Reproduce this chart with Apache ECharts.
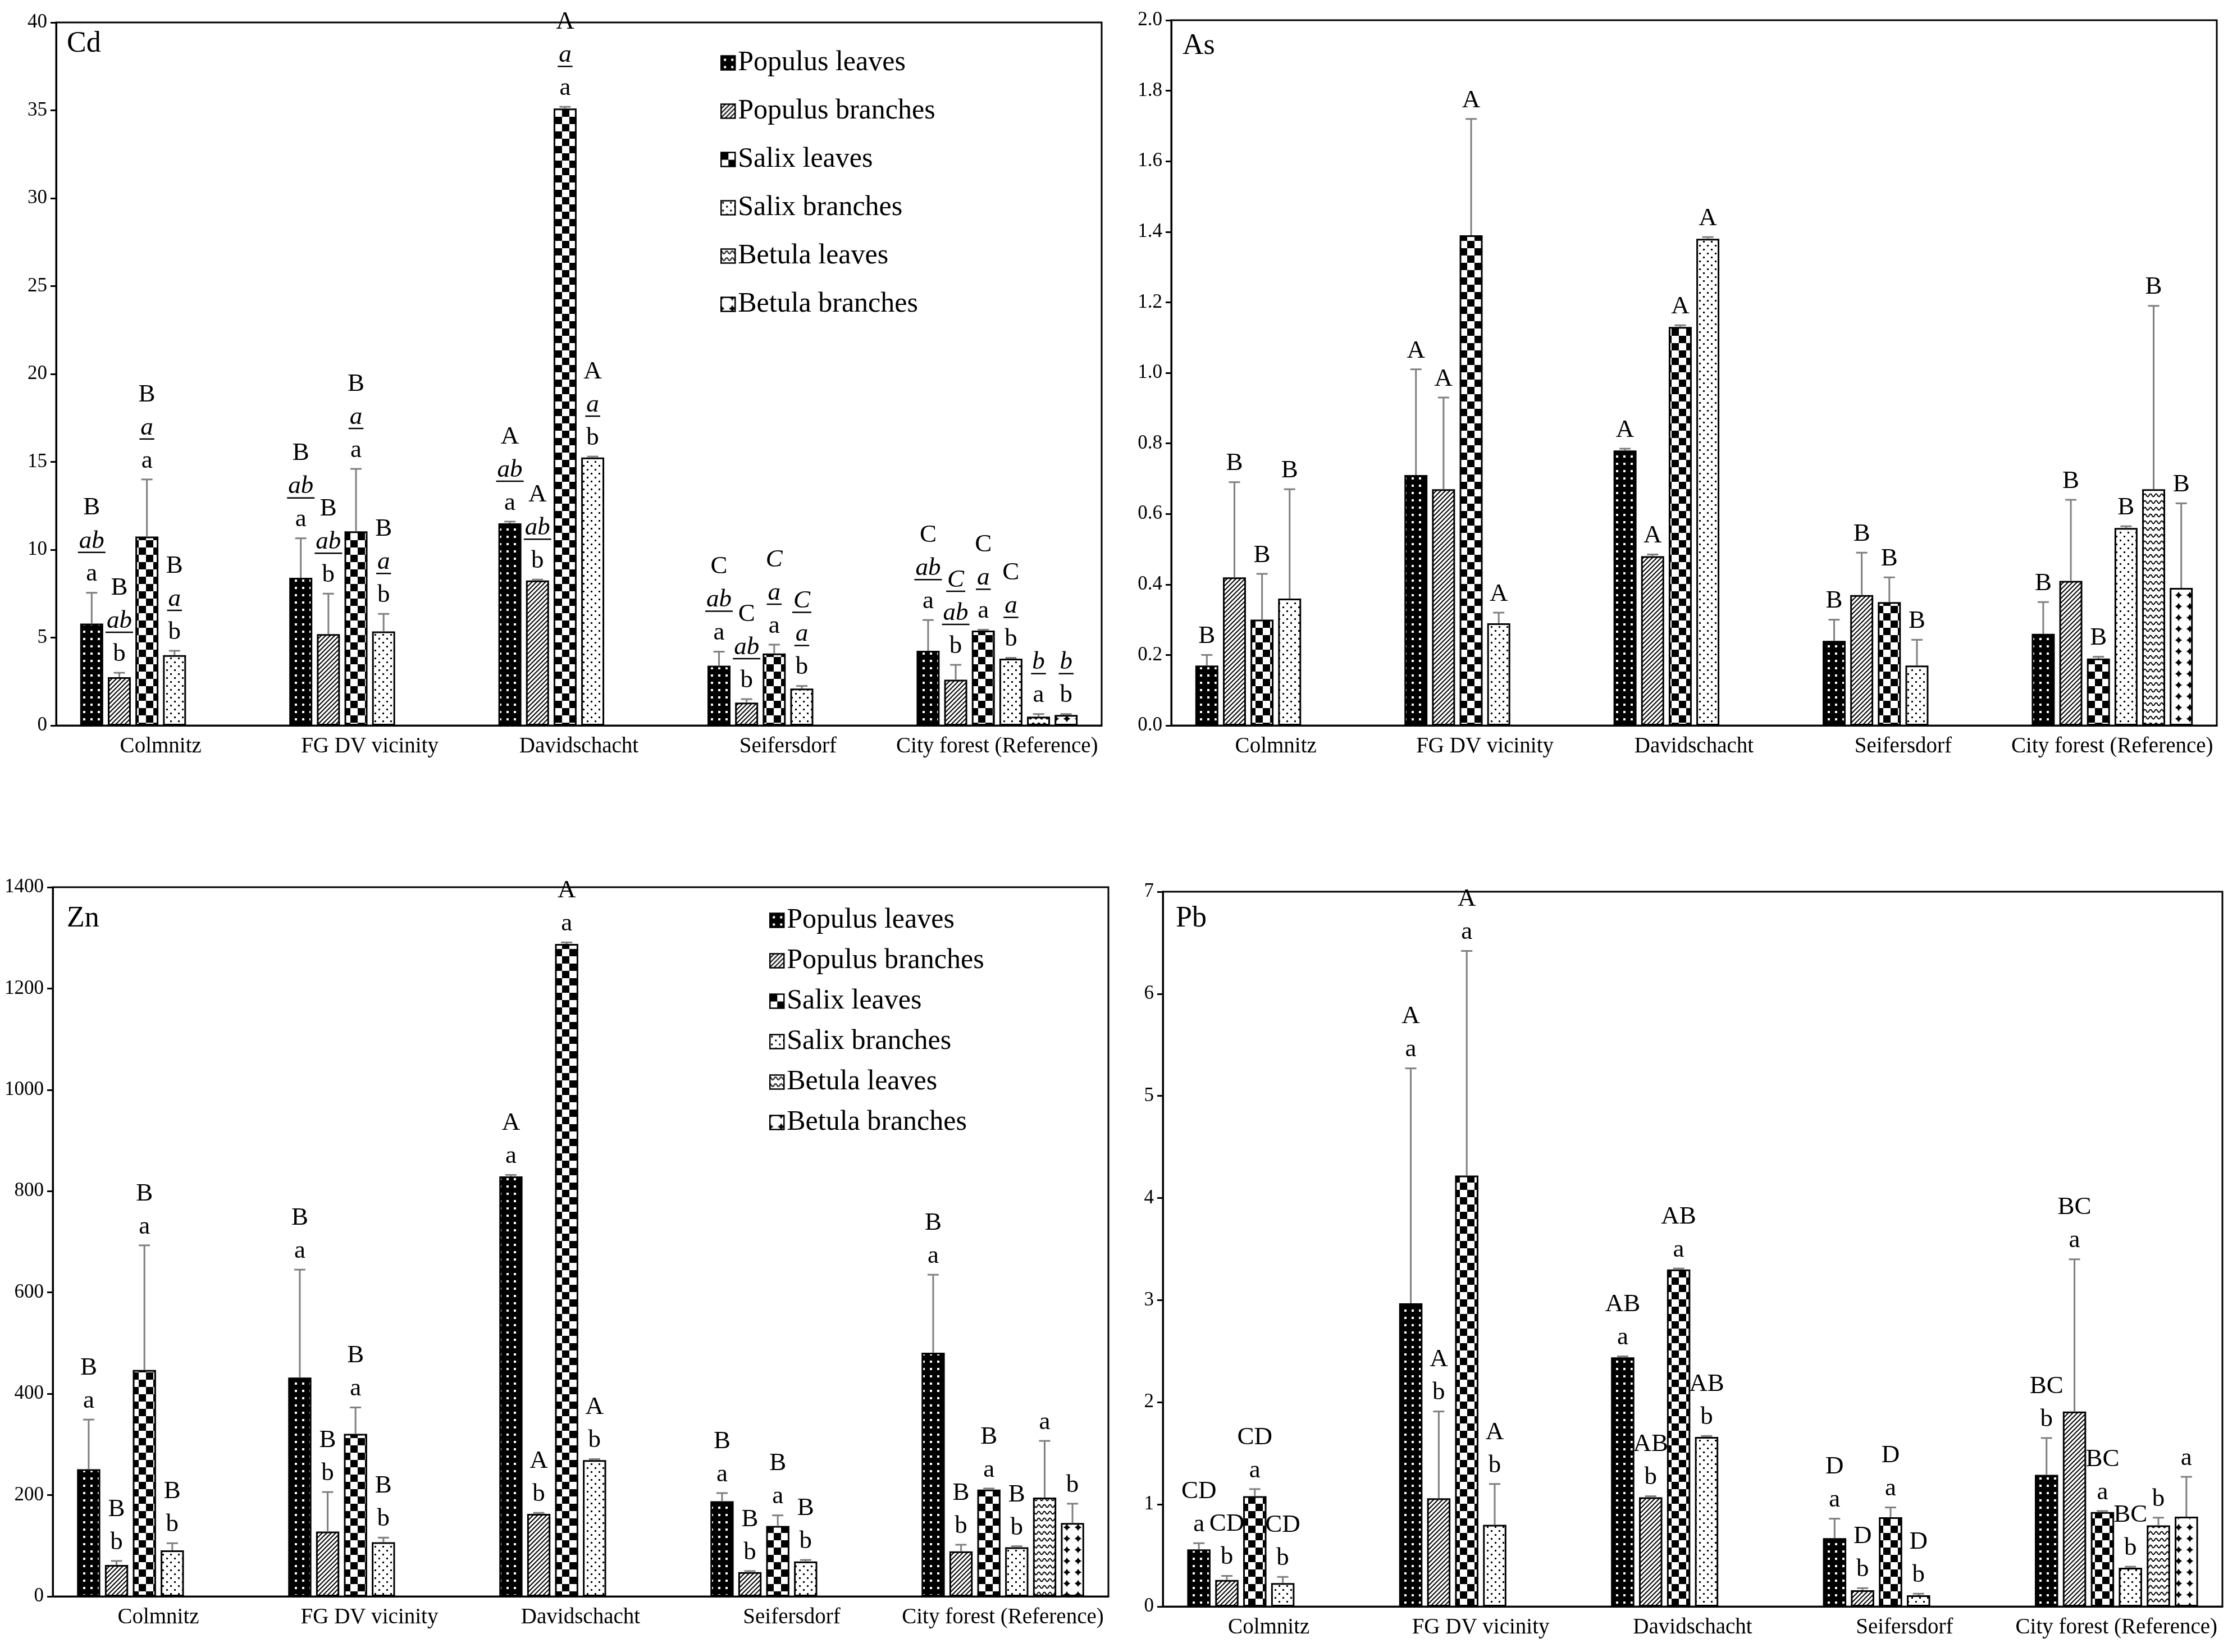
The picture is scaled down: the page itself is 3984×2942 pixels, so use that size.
<!DOCTYPE html>
<html><head><meta charset="utf-8">
<script src="https://cdn.jsdelivr.net/npm/echarts@6/dist/echarts.min.js"></script>
<style>html,body{margin:0;padding:0;background:#fff}#c{width:3984px;height:2942px}</style>
</head><body><div id="c"></div>
<script>
const categories = ['Colmnitz', 'FG DV vicinity', 'Davidschacht', 'Seifersdorf', 'City forest (Reference)'];
const seriesNames = ['Populus leaves', 'Populus branches', 'Salix leaves', 'Salix branches', 'Betula leaves', 'Betula branches'];

// ---- Cd ----
const cdMean = [
  [5.8, 8.4, 11.5, 3.4, 4.25],
  [2.75, 5.2, 8.25, 1.3, 2.6],
  [10.75, 11.05, 35.1, 4.1, 5.4],
  [4.0, 5.35, 15.25, 2.1, 3.8],
  [null, null, null, null, 0.5],
  [null, null, null, null, 0.6]
];
const cdErr = [
  [1.75, 2.25, 0.1, 0.8, 1.75],
  [0.25, 2.3, 0.05, 0.2, 0.85],
  [3.25, 3.55, 0.1, 0.5, 0.05],
  [0.25, 1.0, 0.05, 0.15, 0.05],
  [null, null, null, null, 0.15],
  [null, null, null, null, 0.05]
];
const cdLetters = [
  ['B|[ab]|a', 'B|[ab]|a', 'A|[ab]|a', 'C|[ab]|a', 'C|[ab]|a'],
  ['B|[ab]|b', 'B|[ab]|b', 'A|[ab]|b', 'C|[ab]|b', '[C]|[ab]|b'],
  ['B|[a]|a', 'B|[a]|a', 'A|[a]|a', '{C}|[a]|a', 'C|[a]|a'],
  ['B|[a]|b', 'B|[a]|b', 'A|[a]|b', '[C]|[a]|b', 'C|[a]|b'],
  [null, null, null, null, '[b]|a'],
  [null, null, null, null, '[b]|b']
];
const cdTicks = { max: 40, interval: 5 };

// ---- As ----
const asMean = [
  [0.17, 0.71, 0.78, 0.24, 0.26],
  [0.42, 0.67, 0.48, 0.37, 0.41],
  [0.30, 1.39, 1.13, 0.35, 0.19],
  [0.36, 0.29, 1.38, 0.17, 0.56],
  [null, null, null, null, 0.67],
  [null, null, null, null, 0.39]
];
const asErr = [
  [0.03, 0.30, 0.005, 0.06, 0.09],
  [0.27, 0.26, 0.005, 0.12, 0.23],
  [0.13, 0.33, 0.005, 0.07, 0.005],
  [0.31, 0.03, 0.005, 0.073, 0.005],
  [null, null, null, null, 0.52],
  [null, null, null, null, 0.24]
];
const asLetters = [
  ['B', 'A', 'A', 'B', 'B'],
  ['B', 'A', 'A', 'B', 'B'],
  ['B', 'A', 'A', 'B', 'B'],
  ['B', 'A', 'A', 'B', 'B'],
  [null, null, null, null, 'B'],
  [null, null, null, null, 'B']
];
const asTicks = { max: 2.0, interval: 0.2 };

// ---- Zn ----
const znMean = [
  [251, 432, 829, 188, 481],
  [62, 128, 163, 48, 89],
  [447, 321, 1288, 139, 211],
  [91, 107, 269, 69, 97],
  [null, null, null, null, 195],
  [null, null, null, null, 145]
];
const znErr = [
  [98, 213, 3, 16, 154],
  [8, 78, 2, 2, 13],
  [246, 52, 3, 21, 2],
  [14, 9, 2, 3, 2],
  [null, null, null, null, 112],
  [null, null, null, null, 38]
];
const znLetters = [
  ['B|a', 'B|a', 'A|a', 'B|a', 'B|a'],
  ['B|b', 'B|b', 'A|b', 'B|b', 'B|b'],
  ['B|a', 'B|a', 'A|a', 'B|a', 'B|a'],
  ['B|b', 'B|b', 'A|b', 'B|b', 'B|b'],
  [null, null, null, null, 'a'],
  [null, null, null, null, 'b']
];
const znTicks = { max: 1400, interval: 200 };

// ---- Pb ----
const pbMean = [
  [0.56, 2.97, 2.44, 0.67, 1.29],
  [0.26, 1.06, 1.07, 0.16, 1.91],
  [1.08, 4.22, 3.30, 0.875, 0.925],
  [0.23, 0.80, 1.66, 0.11, 0.38],
  [null, null, null, null, 0.795],
  [null, null, null, null, 0.88]
];
const pbErr = [
  [0.06, 2.30, 0.01, 0.19, 0.36],
  [0.04, 0.85, 0.01, 0.02, 1.49],
  [0.07, 2.20, 0.01, 0.095, 0.01],
  [0.06, 0.40, 0.01, 0.015, 0.01],
  [null, null, null, null, 0.075],
  [null, null, null, null, 0.39]
];
const pbLetters = [
  ['CD|a', 'A|a', 'AB|a', 'D|a', 'BC|b'],
  ['CD|b', 'A|b', 'AB|b', 'D|b', 'BC|a'],
  ['CD|a', 'A|a', 'AB|a', 'D|a', 'BC|a'],
  ['CD|b', 'A|b', 'AB|b', 'D|b', 'BC|b'],
  [null, null, null, null, 'b'],
  [null, null, null, null, 'a']
];
const pbTicks = { max: 7, interval: 1 };

// ---------------- build ----------------
const FONT = '"Liberation Serif", "Times New Roman", serif';
const CAT_GAP = 0.23, BAR_GAP = 0.20;
const LETTER_SIZE = 45;

function tile(w, h, draw) {
  const c = document.createElement('canvas'); c.width = w; c.height = h;
  const g = c.getContext('2d'); draw(g, w, h); return c;
}
const patterns = [
  tile(13, 13, (g) => { g.fillStyle = '#000'; g.fillRect(0, 0, 13, 13); g.fillStyle = '#fff'; g.fillRect(5, 5, 4, 4); }),
  tile(8, 8, (g) => { g.fillStyle = '#fff'; g.fillRect(0, 0, 8, 8); g.strokeStyle = '#000'; g.lineWidth = 2;
    g.beginPath(); g.moveTo(-1, 9); g.lineTo(9, -1); g.moveTo(-1, 1); g.lineTo(1, -1); g.moveTo(7, 9); g.lineTo(9, 7); g.stroke(); }),
  tile(26, 26, (g) => { g.fillStyle = '#fff'; g.fillRect(0, 0, 26, 26); g.fillStyle = '#000'; g.fillRect(0, 0, 13, 13); g.fillRect(13, 13, 13, 13); }),
  tile(14, 14, (g) => { g.fillStyle = '#fff'; g.fillRect(0, 0, 14, 14); g.fillStyle = '#000'; g.fillRect(2, 2, 3, 3); g.fillRect(9, 9, 3, 3); }),
  tile(10, 12, (g) => { g.fillStyle = '#fff'; g.fillRect(0, 0, 10, 12); g.strokeStyle = '#000'; g.lineWidth = 2; g.beginPath();
    for (let x = 0; x <= 10; x += 0.5) { const y = 6 - 2.5 * Math.cos(2 * Math.PI * x / 10); if (x === 0) g.moveTo(x, y); else g.lineTo(x, y); } g.stroke(); }),
  tile(20, 20, (g) => { g.fillStyle = '#000'; g.fillRect(0, 0, 20, 20); g.fillStyle = '#fff'; g.beginPath(); g.arc(10, 10, 10.6, 0, Math.PI * 2); g.fill(); })
];

const mctx = document.createElement('canvas').getContext('2d');
function measure(t, italic) { mctx.font = (italic ? 'italic ' : '') + LETTER_SIZE + 'px "Liberation Serif"'; return mctx.measureText(t).width; }

const panels = [
  { name: 'Cd', mean: cdMean, err: cdErr, letters: cdLetters, ticks: cdTicks, grid: { left: 100, top: 40, width: 1862, height: 1252 }, label: [119, 52], dec: 0 },
  { name: 'As', mean: asMean, err: asErr, letters: asLetters, ticks: asTicks, grid: { left: 2086, top: 36, width: 1862, height: 1256 }, label: [2106, 56], dec: 1 },
  { name: 'Zn', mean: znMean, err: znErr, letters: znLetters, ticks: znTicks, grid: { left: 94, top: 1580, width: 1880, height: 1263 }, label: [119, 1610], dec: 0 },
  { name: 'Pb', mean: pbMean, err: pbErr, letters: pbLetters, ticks: pbTicks, grid: { left: 2071, top: 1588, width: 1887, height: 1273 }, label: [2094, 1610], dec: 0 }
];

const grids = [], xAxes = [], yAxes = [], series = [], titles = [];
panels.forEach((p, gi) => {
  grids.push(Object.assign({ show: true, borderColor: '#000', borderWidth: 3, backgroundColor: 'transparent' }, p.grid));
  xAxes.push({ type: 'category', gridIndex: gi, data: categories,
    axisLine: { lineStyle: { color: '#000', width: 3 } }, axisTick: { show: false },
    axisLabel: { interval: 0, color: '#000', fontFamily: FONT, fontSize: 39, margin: 18 } });
  yAxes.push({ type: 'value', gridIndex: gi, min: 0, max: p.ticks.max, interval: p.ticks.interval,
    splitLine: { show: false },
    axisLine: { show: true, lineStyle: { color: '#000', width: 3 } },
    axisTick: { show: true, length: 10, lineStyle: { color: '#000', width: 3 } },
    axisLabel: { color: '#000', fontFamily: FONT, fontSize: 35, margin: 16,
      formatter: (v) => v.toFixed(p.dec) } });
  titles.push({ text: p.name, left: p.label[0], top: p.label[1], padding: 0,
    textStyle: { fontFamily: FONT, fontSize: 52, fontWeight: 'normal', color: '#000' } });

  seriesNames.forEach((sn, si) => {
    series.push({ type: 'bar', name: sn, xAxisIndex: gi, yAxisIndex: gi, data: p.mean[si],
      barCategoryGap: (CAT_GAP * 100) + '%', barGap: (BAR_GAP * 100) + '%',
      itemStyle: { color: { image: patterns[si], repeat: 'repeat' }, borderColor: '#000', borderWidth: 3 },
      emphasis: { disabled: true }, silent: true });
  });

  const items = [], letterList = [];
  for (let si = 0; si < 6; si++) for (let ci = 0; ci < 5; ci++) {
    const m = p.mean[si][ci]; if (m == null) continue;
    const e = p.err[si][ci] || 0;
    items.push([ci, m + e, si, m]); letterList.push(p.letters[si][ci]);
  }
  series.push({ type: 'custom', xAxisIndex: gi, yAxisIndex: gi, z: 5, silent: true, clip: false,
    data: items,
    renderItem: (params, api) => {
      const ci = api.value(0), top = api.value(1), si = api.value(2), m = api.value(3);
      const base = api.coord([ci, m]); const tp = api.coord([ci, top]);
      const B = api.size([1, 0])[0];
      const usable = B * (1 - CAT_GAP); const w = usable / (6 + 5 * BAR_GAP);
      const cx = base[0] - usable / 2 + si * w * (1 + BAR_GAP) + w / 2;
      const ch = [];
      ch.push({ type: 'line', shape: { x1: cx, y1: base[1], x2: cx, y2: tp[1] }, style: { stroke: '#7f7f7f', lineWidth: 3 } });
      ch.push({ type: 'line', shape: { x1: cx - 10, y1: tp[1], x2: cx + 10, y2: tp[1] }, style: { stroke: '#7f7f7f', lineWidth: 3 } });
      const lt = letterList[params.dataIndex];
      if (lt) {
        const lines = lt.split('|').reverse();
        lines.forEach((ln, k) => {
          let txt = ln, italic = false, under = false;
          if (ln[0] === '[') { txt = ln.slice(1, -1); italic = true; under = true; }
          else if (ln[0] === '{') { txt = ln.slice(1, -1); italic = true; }
          const y = tp[1] - 33 - k * 59;
          ch.push({ type: 'text', style: { text: txt, x: cx, y: y, align: 'center', verticalAlign: 'middle',
            font: (italic ? 'italic ' : '') + LETTER_SIZE + 'px ' + FONT, fill: '#000' } });
          if (under) {
            const tw = measure(txt, true) + 4;
            ch.push({ type: 'line', shape: { x1: cx - tw / 2, y1: y + 20, x2: cx + tw / 2, y2: y + 20 }, style: { stroke: '#000', lineWidth: 2.5 } });
          }
        });
      }
      return { type: 'group', children: ch };
    } });
});

const legendBase = { data: seriesNames, orient: 'vertical', icon: 'rect', itemWidth: 25, itemHeight: 25,
  selectedMode: false, itemStyle: { borderWidth: 2.5, borderColor: '#000' },
  textStyle: { fontFamily: FONT, fontSize: 50, color: '#000', lineHeight: 50 } };

const chart = echarts.init(document.getElementById('c'), null, { renderer: 'canvas' });
chart.setOption({
  animation: false,
  backgroundColor: '#fff',
  title: titles,
  legend: [
    Object.assign({}, legendBase, { left: 1278, top: 82, itemGap: 36 }),
    Object.assign({}, legendBase, { left: 1365, top: 1609, itemGap: 22 })
  ],
  grid: grids, xAxis: xAxes, yAxis: yAxes, series: series
});
</script></body></html>
